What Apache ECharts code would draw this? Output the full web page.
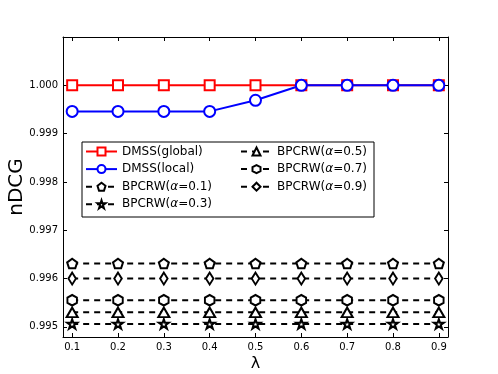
<!DOCTYPE html>
<html>
<head>
<meta charset="utf-8">
<script src="https://cdn.jsdelivr.net/npm/echarts@6/dist/echarts.min.js"></script>
<style>
  html, body { margin: 0; padding: 0; background: #fff; }
  #chart { width: 498px; height: 374px; }
</style>
</head>
<body>
<div id="chart"></div>
<script>
// values
const lambdas = [0.1, 0.2, 0.3, 0.4, 0.5, 0.6, 0.7, 0.8, 0.9]
const dmssGlobal = [1.0, 1.0, 1.0, 1.0, 1.0, 1.0, 1.0, 1.0, 1.0]
const dmssLocal = [0.99946, 0.99946, 0.99946, 0.99946, 0.99969, 1.0, 1.0, 1.0, 1.0]
const bpcrw01 = [0.99631, 0.99631, 0.99631, 0.99631, 0.99631, 0.99631, 0.99631, 0.99631, 0.99631]
const bpcrw03 = [0.99506, 0.99506, 0.99506, 0.99506, 0.99506, 0.99506, 0.99506, 0.99506, 0.99506]
const bpcrw05 = [0.9953, 0.9953, 0.9953, 0.9953, 0.9953, 0.9953, 0.9953, 0.9953, 0.9953]
const bpcrw07 = [0.99555, 0.99555, 0.99555, 0.99555, 0.99555, 0.99555, 0.99555, 0.99555, 0.99555]
const bpcrw09 = [0.996, 0.996, 0.996, 0.996, 0.996, 0.996, 0.996, 0.996, 0.996]
const xTicks = [0.1, 0.2, 0.3, 0.4, 0.5, 0.6, 0.7, 0.8, 0.9]
const yTicks = [0.995, 0.996, 0.997, 0.998, 0.999, 1.0]

const FONT = 'DejaVu Sans'

// matplotlib-like marker shapes
const PENTAGON = 'path://M0,-1L0.951,-0.309L0.588,0.809L-0.588,0.809L-0.951,-0.309Z'
const HEXAGON = 'path://M0,-1L0.866,-0.5L0.866,0.5L0,1L-0.866,0.5L-0.866,-0.5Z'
const STAR = 'path://M0,-1L0.225,-0.309L0.951,-0.309L0.363,0.118L0.588,0.809L0,0.382L-0.588,0.809L-0.363,0.118L-0.951,-0.309L-0.225,-0.309Z'

function makeSeries(name, values, color, symbol, size, dashed) {
  return {
    name: name,
    type: 'line',
    data: lambdas.map((x, i) => [x, values[i]]),
    symbol: symbol,
    symbolSize: size,
    showAllSymbol: true,
    lineStyle: { color: color, width: 2, type: dashed ? [6, 5] : 'solid' },
    itemStyle: { color: '#fff', borderColor: color, borderWidth: 2 },
    emphasis: { disabled: true }
  }
}

function legendAt(left, names) {
  return {
    orient: 'vertical',
    left: left,
    top: 145.5,
    padding: 0,
    itemWidth: 31,
    itemHeight: 10,
    itemGap: 5.6,
    data: names,
    selectedMode: false,
    formatter: name => name.replace('α', '{a|α}'),
    textStyle: {
      fontFamily: FONT, fontSize: 12, color: '#000',
      rich: { a: { fontFamily: FONT, fontStyle: 'italic', fontSize: 12, color: '#000' } }
    }
  }
}

function xAxis(pos, labels) {
  return {
    type: 'value', position: pos, min: 0.08, max: 0.92,
    axisLine: { show: true, onZero: false, lineStyle: { color: '#000', width: 1 } },
    axisTick: { show: true, inside: true, length: 4, customValues: xTicks, lineStyle: { color: '#000' } },
    axisLabel: {
      show: labels, customValues: xTicks, margin: 5,
      formatter: v => v.toFixed(1), fontFamily: FONT, fontSize: 10, color: '#000'
    },
    splitLine: { show: false },
    name: labels ? 'λ' : '', nameLocation: 'middle', nameGap: 19, nameMoveOverlap: false,
    nameTextStyle: { fontFamily: FONT, fontSize: 16, color: '#000' }
  }
}

function yAxis(pos, labels) {
  return {
    type: 'value', position: pos, min: 0.99479, max: 1.001,
    axisLine: { show: true, onZero: false, lineStyle: { color: '#000', width: 1 } },
    axisTick: { show: true, inside: true, length: 4, customValues: yTicks, lineStyle: { color: '#000' } },
    axisLabel: {
      show: labels, customValues: yTicks, margin: 5,
      formatter: v => v.toFixed(3), fontFamily: FONT, fontSize: 10, color: '#000'
    },
    splitLine: { show: false },
    name: labels ? 'nDCG' : '', nameLocation: 'middle', nameGap: 36, nameMoveOverlap: false,
    nameTextStyle: { fontFamily: FONT, fontSize: 20, color: '#000' }
  }
}

const chart = echarts.init(document.getElementById('chart'))
chart.setOption({
  animation: false,
  backgroundColor: '#fff',
  grid: { left: 63, right: 50, top: 37, bottom: 37, containLabel: false, outerBoundsMode: 'none' },
  xAxis: [xAxis('bottom', true), xAxis('top', false)],
  yAxis: [yAxis('left', true), yAxis('right', false)],
  legend: [
    legendAt(85, ['DMSS(global)', 'DMSS(local)', 'BPCRW(α=0.1)', 'BPCRW(α=0.3)']),
    legendAt(240, ['BPCRW(α=0.5)', 'BPCRW(α=0.7)', 'BPCRW(α=0.9)'])
  ],
  graphic: [{
    type: 'rect', z: 3,
    shape: { x: 82, y: 142, width: 292, height: 75 },
    style: { fill: '#fff', stroke: '#000', lineWidth: 1 }
  }],
  series: [
    makeSeries('DMSS(global)', dmssGlobal, '#ff0000', 'rect', 10, false),
    makeSeries('DMSS(local)', dmssLocal, '#0000ff', 'circle', 11, false),
    makeSeries('BPCRW(α=0.1)', bpcrw01, '#000', PENTAGON, [10, 9.5], true),
    makeSeries('BPCRW(α=0.3)', bpcrw03, '#000', STAR, [10, 9.5], true),
    makeSeries('BPCRW(α=0.5)', bpcrw05, '#000', 'triangle', [11, 9.5], true),
    makeSeries('BPCRW(α=0.7)', bpcrw07, '#000', HEXAGON, [9.5, 10.5], true),
    makeSeries('BPCRW(α=0.9)', bpcrw09, '#000', 'diamond', [7.5, 12], true)
  ]
})
</script>
</body>
</html>
